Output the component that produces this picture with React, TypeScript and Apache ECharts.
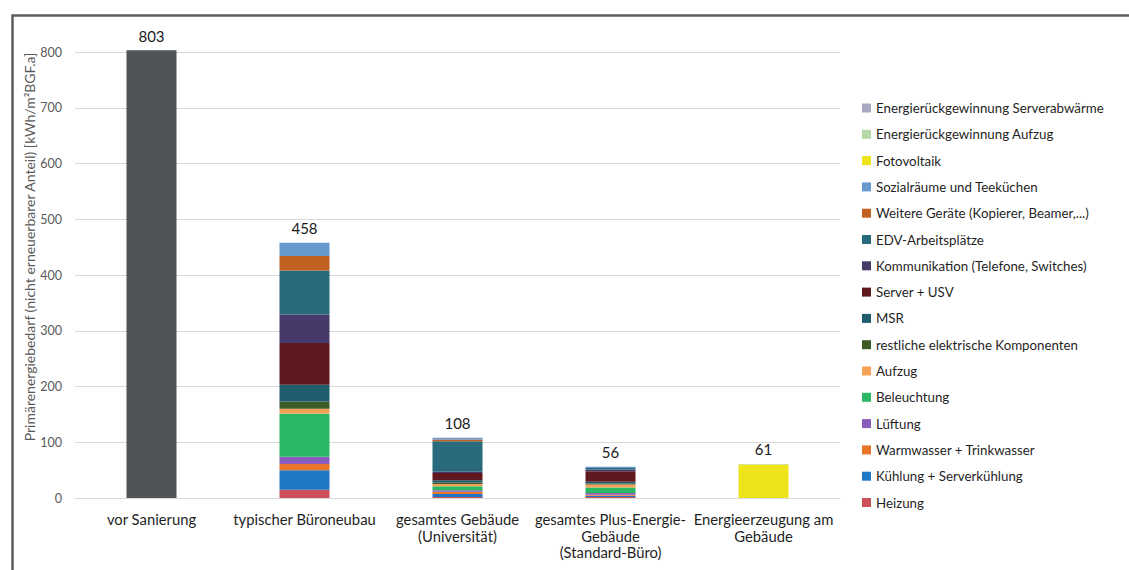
import React, { useEffect, useRef } from "react";
import * as echarts from "echarts";

// Categories along the x axis
const categories = [
  "vor Sanierung",
  "typischer Büroneubau",
  "gesamtes Gebäude\n(Universität)",
  "gesamtes Plus-Energie-\nGebäude\n(Standard-Büro)",
  "Energieerzeugung am\nGebäude",
];

// Primary energy demand before refurbishment (single block, not in legend)
const vorSanierung = [803, null, null, null, null];

// Stacked components, bottom to top
const heizung = [null, 15, 2, 2, null];
const kuehlung = [null, 35, 5, 2, null];
const warmwasser = [null, 11, 4, 2, null];
const lueftung = [null, 13, 3, 3, null];
const beleuchtung = [null, 77, 7, 10, null];
const aufzug = [null, 9, 4, 5, null];
const restlicheKomponenten = [null, 13, 3, 2, null];
const msr = [null, 30, 4, 3, null];
const serverUsv = [null, 75, 13, 19, null];
const kommunikation = [null, 51, 2, 3, null];
const edv = [null, 79, 55, 3, null];
const weitereGeraete = [null, 26, 3, 0, null];
const sozialraeume = [null, 24, 3, 2, null];
const fotovoltaik = [null, null, null, null, 60];
const rueckAufzug = [null, null, null, null, 1];
const rueckServer = [null, null, null, null, 0];

const yTicks = [0, 100, 200, 300, 400, 500, 600, 700, 800];
const yAxisTitle = "Primärenergiebedarf (nicht erneuerbarer Anteil) [kWh/m²BGF.a]";

const stackSeries = [
  { name: "Heizung", data: heizung, color: "#cc5058" },
  { name: "Kühlung + Serverkühlung", data: kuehlung, color: "#1f77c6" },
  { name: "Warmwasser + Trinkwasser", data: warmwasser, color: "#e8762a" },
  { name: "Lüftung", data: lueftung, color: "#8a5cbc" },
  { name: "Beleuchtung", data: beleuchtung, color: "#2bb865" },
  { name: "Aufzug", data: aufzug, color: "#f6a258" },
  { name: "restliche elektrische Komponenten", data: restlicheKomponenten, color: "#3d5a27" },
  { name: "MSR", data: msr, color: "#1f5d6e" },
  { name: "Server + USV", data: serverUsv, color: "#5f191e" },
  { name: "Kommunikation (Telefone, Switches)", data: kommunikation, color: "#47396a" },
  { name: "EDV-Arbeitsplätze", data: edv, color: "#2a6a7d" },
  { name: "Weitere Geräte (Kopierer, Beamer,...)", data: weitereGeraete, color: "#c2601f" },
  { name: "Sozialräume und Teeküchen", data: sozialraeume, color: "#6799cf" },
  { name: "Fotovoltaik", data: fotovoltaik, color: "#eee41a" },
  { name: "Energierückgewinnung Aufzug", data: rueckAufzug, color: "#b6d9a8" },
  { name: "Energierückgewinnung Serverabwärme", data: rueckServer, color: "#a8a8c2" },
];

const FONT = "Lato, 'Open Sans', sans-serif";

export default function App() {
  const ref = useRef<HTMLDivElement>(null);

  useEffect(() => {
    if (!ref.current) return;
    const chart = echarts.init(ref.current, undefined, { renderer: "svg" });

    // Column totals derived from the stacked parts
    const totals = categories.map((_, i) => {
      let s = vorSanierung[i] ?? 0;
      stackSeries.forEach((ser) => {
        s += (ser.data[i] as number | null) ?? 0;
      });
      return s;
    });

    const series: any[] = [
      {
        name: "vor Sanierung",
        type: "bar",
        stack: "total",
        barWidth: 50,
        clip: false,
        data: vorSanierung,
        itemStyle: { color: "#505456" },
      },
      ...stackSeries.map((s) => ({
        name: s.name,
        type: "bar",
        stack: "total",
        barWidth: 50,
        clip: false,
        data: s.data,
        itemStyle: { color: s.color },
      })),
      {
        name: "Summe",
        type: "bar",
        barWidth: 50,
        barGap: "-100%",
        clip: false,
        z: 1,
        data: totals,
        itemStyle: { color: "rgba(0,0,0,0)" },
        label: {
          show: true,
          position: "top",
          distance: 7,
          formatter: (p: any) => String(Math.round(p.value)),
          fontFamily: FONT,
          fontSize: 15,
          color: "#1a1a1a",
        },
      },
    ];

    chart.setOption({
      animation: false,
      backgroundColor: "#ffffff",
      textStyle: { fontFamily: FONT },
      graphic: [
        {
          type: "rect",
          left: 10,
          top: 13,
          shape: { width: 1300, height: 700 },
          style: { fill: "none", stroke: "#5c5c5c", lineWidth: 2.5 },
          silent: true,
        },
        {
          // rotated y-axis title
          type: "text",
          x: 29,
          y: 247,
          rotation: Math.PI / 2,
          silent: true,
          style: {
            text: yAxisTitle,
            fontFamily: FONT,
            fontSize: 14,
            fill: "#595959",
            align: "center",
            verticalAlign: "middle",
          },
        },
      ],
      grid: { left: 75, right: 289, top: 52, bottom: 72 },
      legend: {
        orient: "vertical",
        left: 857,
        top: 95,
        icon: "rect",
        itemWidth: 9,
        itemHeight: 9,
        itemGap: 10.3,
        data: stackSeries.map((s) => s.name).reverse(),
        textStyle: {
          fontFamily: FONT,
          fontSize: 13.3,
          lineHeight: 16,
          color: "#1f1f1f",
        },
        selectedMode: false,
      },
      xAxis: {
        type: "category",
        data: categories,
        axisLine: { lineStyle: { color: "#d9d9d9" } },
        axisTick: { show: false },
        axisLabel: {
          interval: 0,
          margin: 13,
          fontFamily: FONT,
          fontSize: 14.8,
          lineHeight: 16.5,
          color: "#1f1f1f",
        },
      },
      yAxis: {
        type: "value",
        min: yTicks[0],
        max: yTicks[yTicks.length - 1],
        interval: 100,
        axisLine: { show: false },
        axisTick: { show: false },
        axisLabel: {
          fontFamily: FONT,
          fontSize: 12.5,
          color: "#595959",
          margin: 13,
        },
        splitLine: { lineStyle: { color: "#d9d9d9" } },
      },
      series,
    });

    return () => chart.dispose();
  }, []);

  return (
    <div
      ref={ref}
      style={{
        position: "fixed",
        left: 0,
        top: 0,
        width: 1129,
        height: 570,
        background: "#fff",
      }}
    />
  );
}
